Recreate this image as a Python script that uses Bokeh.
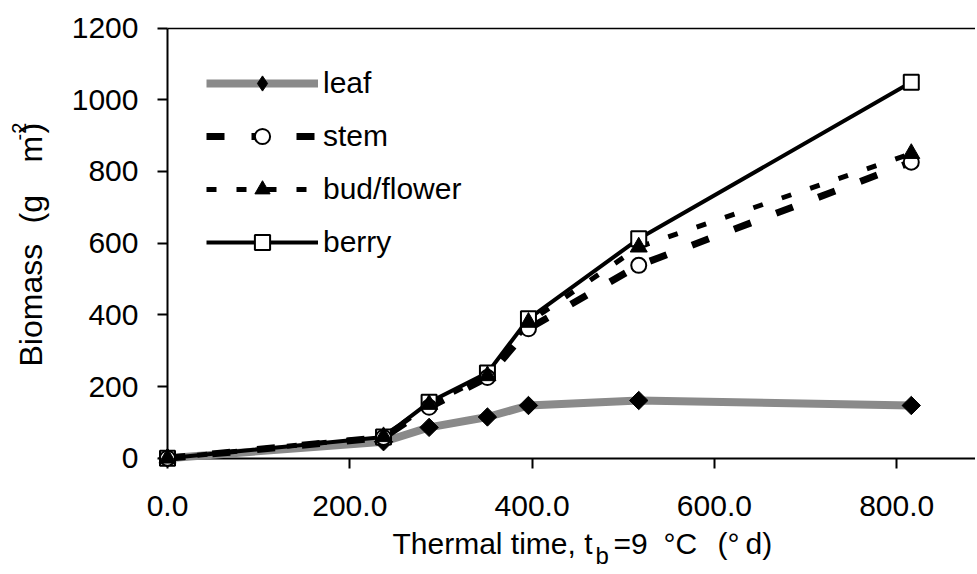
import math
from bokeh.plotting import figure
from bokeh.models import (Range1d, FixedTicker, NumeralTickFormatter, Label,
                          Legend, LegendItem, LinearAxis)
from bokeh.embed import file_html
from bokeh.resources import INLINE

# ---- data ----
thermal_time = [0, 237, 287, 351, 396, 517, 816]
leaf = [0, 46, 86, 115, 147, 161, 147]
stem = [0, 58, 142, 225, 361, 538, 826]
bud_flower = [0, 60, 150, 230, 379, 589, 850]
berry = [0, 59, 156, 238, 389, 612, 1049]
series_names = ["leaf", "stem", "bud/flower", "berry"]
x_ticks = [0, 200, 400, 600, 800]
y_ticks = [0, 200, 400, 600, 800, 1000, 1200]

FONT = "Liberation Sans"
W, H = 975, 572
X0_PX, XS = 167.0, 0.9115      # screen x of x=0, px per unit
Y0_PX, YS = 457.7, 0.35842     # screen y of y=0, px per unit
x_start, x_end = -X0_PX / XS, (W - X0_PX) / XS
y_start, y_end = -(H - Y0_PX) / YS, Y0_PX / YS

p = figure(width=W, height=H, output_backend="svg", toolbar_location=None,
           x_range=Range1d(x_start, x_end), y_range=Range1d(y_start, y_end),
           min_border=0, min_border_left=0, min_border_right=0,
           min_border_top=0, min_border_bottom=0)
p.outline_line_color = None
p.grid.visible = False
p.background_fill_color = "white"
p.border_fill_color = "white"

xa, ya = p.xaxis[0], p.yaxis[0]
for ax in (xa, ya):
    ax.fixed_location = 0
    ax.level = "underlay"
    ax.axis_line_width = 2
    ax.axis_line_color = "black"
    ax.major_tick_in = 0
    ax.major_tick_out = 10
    ax.major_tick_line_width = 2
    ax.major_tick_line_color = "black"
    ax.minor_tick_line_color = None
    ax.major_label_text_font = FONT
    ax.major_label_text_font_size = "30px"
    ax.major_label_text_color = "black"
xa.ticker = FixedTicker(ticks=x_ticks)
ya.ticker = FixedTicker(ticks=y_ticks)
xa.bounds = (0, x_end)
ya.bounds = (0, 1200)
xa.formatter = NumeralTickFormatter(format="0.0")
xa.major_label_standoff = 28
ya.major_label_standoff = 19

top_axis = LinearAxis(fixed_location=1200, bounds=(0, x_end),
                      ticker=FixedTicker(ticks=[]), axis_line_width=1.5,
                      axis_line_color="black", major_tick_line_color=None,
                      minor_tick_line_color=None, level="underlay")
p.add_layout(top_axis, "above")

# lines
r_leaf_l = p.line(thermal_time, leaf, line_color="#8a8a8a", line_width=8)
r_stem_l = p.line(thermal_time, stem, line_color="black", line_width=7,
                  line_dash="18 27")
r_bud_l = p.line(thermal_time, bud_flower, line_color="black", line_width=5,
                 line_dash="10 20")
r_berry_l = p.line(thermal_time, berry, line_color="black", line_width=4)

# markers
r_leaf_m = p.scatter(thermal_time, leaf, marker="square", angle=math.pi / 4,
                     size=13, fill_color="black", line_color="black")
r_berry_m = p.scatter(thermal_time, berry, marker="square", size=15,
                      fill_color="white", line_color="black", line_width=2)
r_stem_m = p.scatter(thermal_time, stem, marker="circle", size=15,
                     fill_color="white", line_color="black", line_width=2)
r_bud_m = p.scatter(thermal_time, bud_flower, marker="triangle", size=17,
                    fill_color="black", line_color="black")
# hidden diamond renderer, used only as the leaf legend key
r_leaf_key = p.scatter(thermal_time, leaf, marker="diamond", size=15,
                       fill_color="black", line_color="black", visible=False)

legend = Legend(items=[
    LegendItem(label=series_names[0], renderers=[r_leaf_l, r_leaf_key]),
    LegendItem(label=series_names[1], renderers=[r_stem_l, r_stem_m]),
    LegendItem(label=series_names[2], renderers=[r_bud_l, r_bud_m]),
    LegendItem(label=series_names[3], renderers=[r_berry_l, r_berry_m]),
], location=(206, H - 261), orientation="vertical", padding=0, margin=0,
    spacing=15, glyph_width=112, glyph_height=38, label_height=30,
    label_standoff=5, label_text_font=FONT, label_text_font_size="30px",
    label_text_color="black", border_line_alpha=0, background_fill_alpha=0)
p.add_layout(legend)


def lab(text, x, y_from_top, size="30px", angle=0.0):
    p.add_layout(Label(text=text, x=x, y=H - y_from_top, x_units="screen",
                       y_units="screen", text_font=FONT, text_font_size=size,
                       text_color="black", text_align="left",
                       text_baseline="alphabetic", angle=angle))


# x axis title (with subscript b)
lab("Thermal time, t", 392, 543)
lab("b", 595, 555, size="24px")
lab("=9", 613, 543)
lab("°C", 663, 543)
lab("(°", 717, 543)
lab("d)", 745, 543)

# y axis title (with superscript -2), rotated
A = math.pi / 2
lab("Biomass", 30, 366, size="32px", angle=A)
lab("(g", 30, 223, size="32px", angle=A)
lab("m", 30, 162, size="32px", angle=A)
lab("-2", 18, 140, size="20px", angle=A)
lab(")", 30, 133, size="32px", angle=A)

open("out.html", "w").write(file_html(p, INLINE))
